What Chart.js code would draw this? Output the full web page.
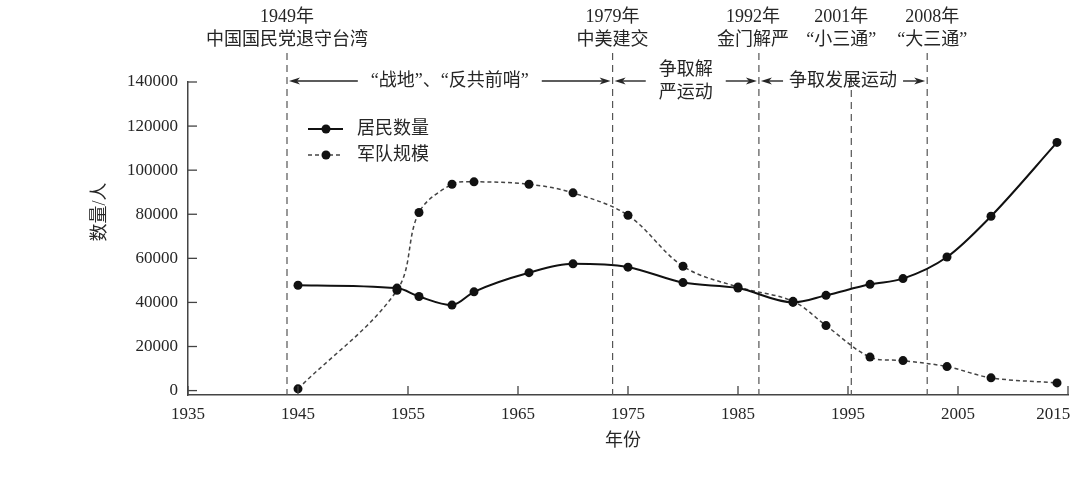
<!DOCTYPE html>
<html>
<head>
<meta charset="utf-8">
<script src="https://cdn.jsdelivr.net/npm/chart.js@4/dist/chart.umd.min.js"></script>
<style>
  body { margin: 0; background: #fff; }
  canvas { display: block; }
</style>
</head>
<body>
<canvas id="popChart" width="1080" height="480"></canvas>
<script>
// data
const years = [1945, 1954, 1956, 1959, 1961, 1966, 1970, 1975, 1980, 1985, 1990, 1993, 1997, 2000, 2004, 2008, 2014]
const residents = [47800, 46500, 42700, 38800, 44800, 53500, 57500, 56000, 49000, 46500, 40000, 43200, 48200, 50800, 60600, 79100, 112600]
const military = [800, 45500, 80800, 93600, 94700, 93600, 89700, 79500, 56400, 47000, 40500, 29500, 15200, 13600, 10900, 5800, 3500]

const xTicks = [1935, 1945, 1955, 1965, 1975, 1985, 1995, 2005, 2015]
const yTicks = [0, 20000, 40000, 60000, 80000, 100000, 120000, 140000]

const seriesNames = ['居民数量', '军队规模']

// event markers (position on the year axis) and the periods between them
const eventYears = [1944, 1973.6, 1986.9, 1995.3, 2002.2]
const eventTitles = ['1949年', '1979年', '1992年', '2001年', '2008年']
const eventNotes = ['中国国民党退守台湾', '中美建交', '金门解严', '“小三通”', '“大三通”']
const periodTexts = [['“战地”、“反共前哨”'], ['争取解', '严运动'], ['争取发展运动']]

const FONT = '"Liberation Serif", "Noto Sans CJK SC", serif'
const INK = '#262626'

function toPoints(values) {
  return years.map((y, i) => ({ x: y, y: values[i] }))
}

function arrow(ctx, x1, x2, y) {
  // line from x1 to x2, head at x2
  const dir = x2 > x1 ? 1 : -1
  ctx.beginPath()
  ctx.moveTo(x1, y)
  ctx.lineTo(x2 - dir * 8, y)
  ctx.stroke()
  ctx.beginPath()
  ctx.moveTo(x2, y)
  ctx.lineTo(x2 - dir * 11, y - 3.5)
  ctx.lineTo(x2 - dir * 8, y)
  ctx.lineTo(x2 - dir * 11, y + 3.5)
  ctx.closePath()
  ctx.fill()
}

const decorations = {
  id: 'decorations',
  beforeDatasetsDraw(chart) {
    const { ctx, chartArea, scales } = chart
    ctx.save()
    ctx.strokeStyle = '#555'
    ctx.lineWidth = 1.2
    ctx.setLineDash([7, 5])
    eventYears.forEach((yr, i) => {
      const px = scales.x.getPixelForValue(yr)
      const top = i === 3 ? chartArea.top - 4 : chartArea.top - 29
      ctx.beginPath()
      ctx.moveTo(px, top)
      ctx.lineTo(px, chartArea.bottom)
      ctx.stroke()
    })
    ctx.restore()
  },
  afterDraw(chart) {
    const { ctx, chartArea, scales } = chart
    const xs = scales.x, ys = scales.y
    ctx.save()

    // inward tick marks
    ctx.strokeStyle = '#444'
    ctx.lineWidth = 1.3
    yTicks.forEach(v => {
      const py = ys.getPixelForValue(v)
      ctx.beginPath()
      ctx.moveTo(chartArea.left, py)
      ctx.lineTo(chartArea.left + 9, py)
      ctx.stroke()
    })
    xTicks.forEach(v => {
      const px = xs.getPixelForValue(v)
      ctx.beginPath()
      ctx.moveTo(px, chartArea.bottom)
      ctx.lineTo(px, chartArea.bottom - 9)
      ctx.stroke()
    })

    ctx.fillStyle = INK
    ctx.font = '18px ' + FONT
    ctx.textAlign = 'center'
    ctx.textBaseline = 'middle'

    // axis titles
    ctx.fillText('年份', (chartArea.left + chartArea.right) / 2 - 5, 441)
    ctx.save()
    ctx.translate(100, 212)
    ctx.rotate(-Math.PI / 2)
    ctx.fillText('数量/人', 0, 0)
    ctx.restore()

    // event labels
    const offsets = [0, 0, -6, -10, 5]
    eventYears.forEach((yr, i) => {
      const px = xs.getPixelForValue(yr) + offsets[i]
      ctx.fillText(eventTitles[i], px, 17)
      ctx.fillText(eventNotes[i], px, 40)
    })

    // periods with arrows
    ctx.strokeStyle = INK
    ctx.lineWidth = 1.4
    const ay = chartArea.top - 1
    periodTexts.forEach((lines, i) => {
      const a = xs.getPixelForValue(eventYears[i])
      const b = xs.getPixelForValue(eventYears[i === 2 ? 4 : i + 1])
      const mid = (a + b) / 2
      const w = Math.max(...lines.map(t => ctx.measureText(t).width))
      if (lines.length === 1) {
        ctx.fillText(lines[0], mid, ay)
      } else {
        ctx.fillText(lines[0], mid, ay - 11)
        ctx.fillText(lines[1], mid, ay + 12)
      }
      const gap = i === 2 ? 6 : 13
      arrow(ctx, mid - w / 2 - gap, a + 2, ay)
      arrow(ctx, mid + w / 2 + gap, b - 2, ay)
    })

    // legend
    const lx = chartArea.left + 120
    const rows = [chartArea.top + 47, chartArea.top + 73]
    rows.forEach((ry, i) => {
      ctx.save()
      ctx.strokeStyle = i === 0 ? '#111' : '#444'
      ctx.lineWidth = i === 0 ? 2 : 1.4
      ctx.setLineDash(i === 0 ? [] : [4, 3])
      ctx.beginPath()
      ctx.moveTo(lx, ry)
      ctx.lineTo(lx + 35, ry)
      ctx.stroke()
      ctx.restore()
      ctx.beginPath()
      ctx.arc(lx + 18, ry, 4.5, 0, Math.PI * 2)
      ctx.fillStyle = '#111'
      ctx.fill()
      ctx.fillStyle = INK
      ctx.textAlign = 'left'
      ctx.fillText(seriesNames[i], lx + 49, ry)
    })

    ctx.restore()
  }
}

new Chart(document.getElementById('popChart'), {
  type: 'line',
  data: {
    datasets: [
      {
        label: seriesNames[0],
        data: toPoints(residents),
        borderColor: '#111',
        borderWidth: 2,
        pointBackgroundColor: '#111',
        pointBorderWidth: 0,
        pointRadius: 4.5,
        cubicInterpolationMode: 'monotone'
      },
      {
        label: seriesNames[1],
        data: toPoints(military),
        borderColor: '#444',
        borderWidth: 1.5,
        borderDash: [4, 3],
        pointBackgroundColor: '#111',
        pointBorderWidth: 0,
        pointRadius: 4.5,
        tension: 0.35
      }
    ]
  },
  options: {
    responsive: false,
    animation: false,
    layout: {
      padding: { left: 0, right: 12, top: 82, bottom: 0 }
    },
    plugins: {
      legend: { display: false },
      tooltip: { enabled: false }
    },
    scales: {
      x: {
        type: 'linear',
        min: 1935,
        max: 2015,
        afterBuildTicks(scale) {
          scale.ticks = xTicks.map(v => ({ value: v }))
        },
        afterFit(scale) {
          scale.height = 85
          scale.paddingLeft = 0
          scale.paddingRight = 0
        },
        grid: { display: false, drawTicks: false, tickLength: 0 },
        border: { display: true, color: '#444', width: 1.5 },
        ticks: {
          padding: 9,
          color: INK,
          font: { family: FONT, size: 17 },
          // last label sits a little inside the axis end, as in the figure
          callback: v => v === 2015 ? '2015       ' : String(v)
        }
      },
      y: {
        min: -2000,
        max: 140000,
        afterBuildTicks(scale) {
          scale.ticks = yTicks.map(v => ({ value: v }))
        },
        afterFit(scale) {
          scale.width = 188
          scale.paddingTop = 0
          scale.paddingBottom = 0
        },
        grid: { display: false, drawTicks: false, tickLength: 0 },
        border: { display: true, color: '#444', width: 1.5 },
        ticks: {
          padding: 10,
          color: INK,
          font: { family: FONT, size: 17 },
          callback: v => String(v)
        }
      }
    }
  },
  plugins: [decorations]
})
</script>
</body>
</html>
